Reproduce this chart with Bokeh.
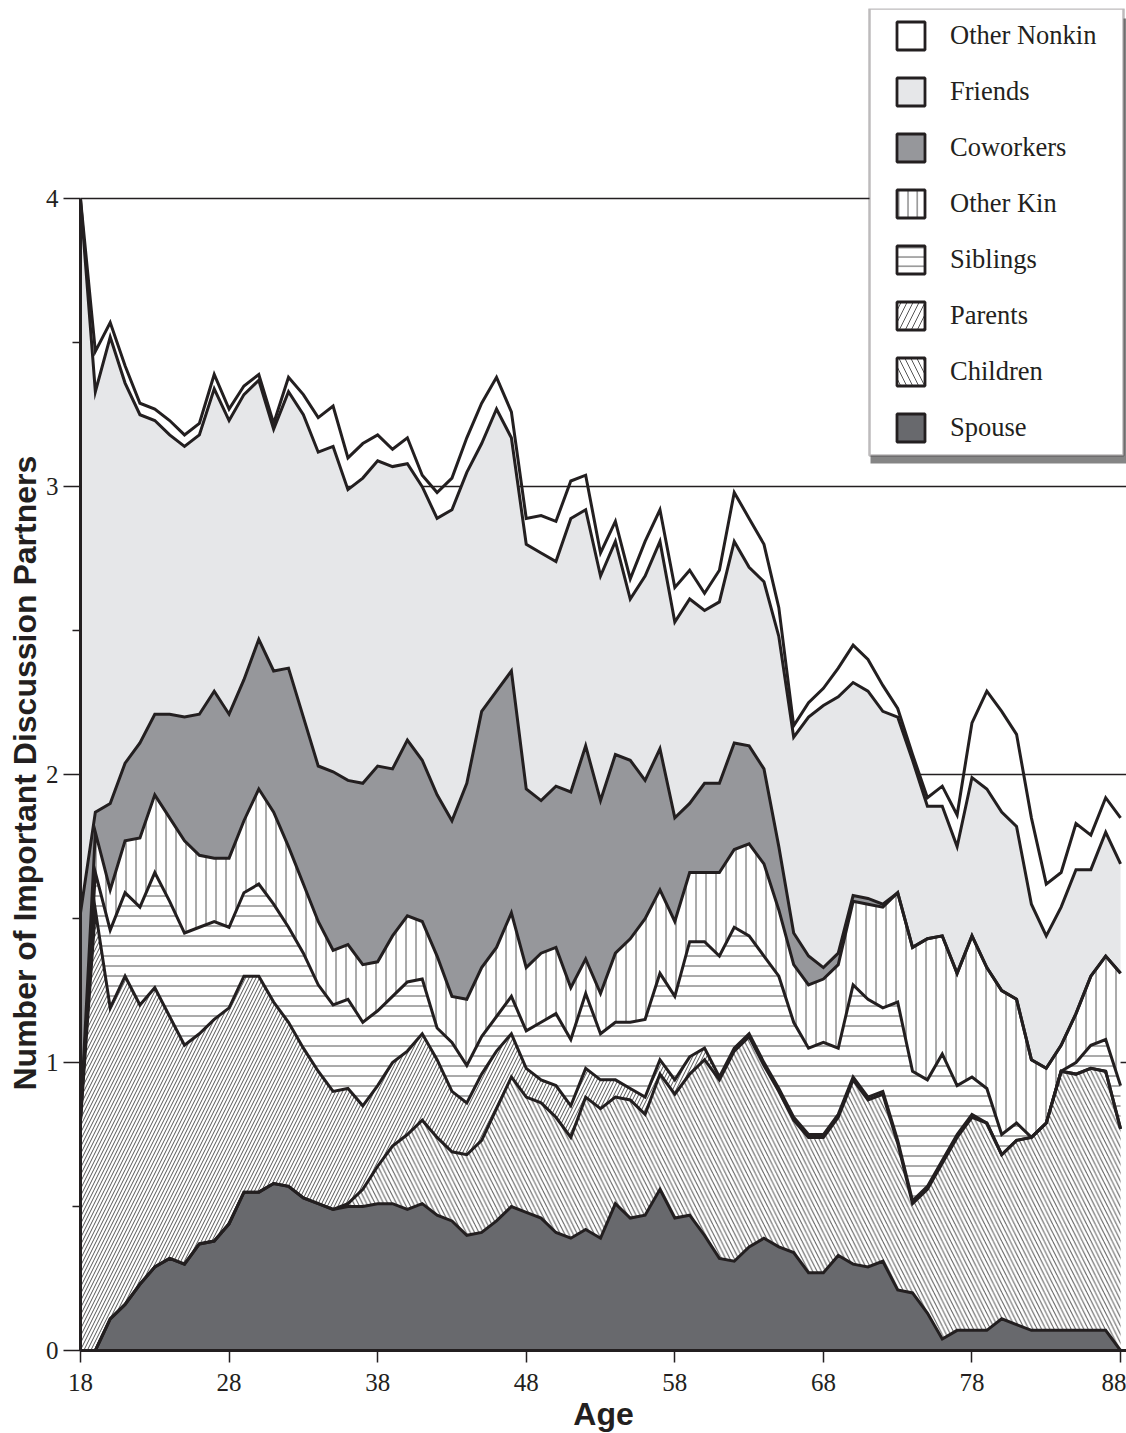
from bokeh.plotting import figure
from bokeh.models import (ColumnDataSource, FixedTicker, Legend, LegendItem,
                          BoxAnnotation, Title, Range1d)
from bokeh.embed import file_html
from bokeh.resources import INLINE

# ---------------- data ----------------
ages = list(range(18, 89))

spouse = [0, 0, 0.11, 0.16, 0.23, 0.29, 0.32, 0.30, 0.37, 0.38,
          0.44, 0.55, 0.55, 0.58, 0.57, 0.53, 0.51, 0.49, 0.50, 0.50,
          0.51, 0.51, 0.49, 0.51, 0.47, 0.45, 0.40, 0.41, 0.45, 0.50,
          0.48, 0.46, 0.41, 0.39, 0.42, 0.39, 0.51, 0.46, 0.47, 0.56,
          0.46, 0.47, 0.40, 0.32, 0.31, 0.36, 0.39, 0.36, 0.34, 0.27,
          0.27, 0.33, 0.30, 0.29, 0.31, 0.21, 0.20, 0.13, 0.04, 0.07,
          0.07, 0.07, 0.11, 0.09, 0.07, 0.07, 0.07, 0.07, 0.07, 0.07,
          0.0]
children = [0, 0, 0, 0, 0, 0, 0, 0, 0, 0,
            0, 0, 0, 0, 0, 0, 0, 0, 0.01, 0.06,
            0.13, 0.20, 0.26, 0.29, 0.27, 0.24, 0.28, 0.32, 0.39, 0.45,
            0.40, 0.40, 0.40, 0.35, 0.46, 0.45, 0.37, 0.41, 0.35, 0.40,
            0.43, 0.49, 0.61, 0.62, 0.73, 0.73, 0.60, 0.54, 0.46, 0.47,
            0.47, 0.48, 0.64, 0.58, 0.58, 0.51, 0.31, 0.43, 0.61, 0.67,
            0.74, 0.72, 0.57, 0.64, 0.67, 0.72, 0.90, 0.89, 0.91, 0.90,
            0.77]
parents = [0.80, 1.53, 1.08, 1.14, 0.97, 0.97, 0.84, 0.76, 0.73, 0.77,
           0.75, 0.75, 0.75, 0.63, 0.57, 0.52, 0.46, 0.41, 0.40, 0.29,
           0.28, 0.29, 0.29, 0.30, 0.27, 0.21, 0.18, 0.23, 0.20, 0.15,
           0.10, 0.08, 0.11, 0.11, 0.10, 0.10, 0.06, 0.04, 0.06, 0.05,
           0.05, 0.06, 0.04, 0.01, 0.01, 0.01, 0.01, 0.01, 0.01, 0.01,
           0.01, 0.01, 0.01, 0.01, 0.01, 0.01, 0.01, 0.01, 0.01, 0.01,
           0.01, 0, 0, 0, 0, 0, 0, 0, 0, 0,
           0]
siblings = [0, 0.13, 0.27, 0.29, 0.34, 0.40, 0.40, 0.39, 0.37, 0.34,
            0.28, 0.29, 0.32, 0.34, 0.33, 0.33, 0.30, 0.30, 0.31, 0.29,
            0.26, 0.23, 0.24, 0.19, 0.11, 0.17, 0.13, 0.13, 0.12, 0.13,
            0.13, 0.20, 0.25, 0.23, 0.26, 0.16, 0.20, 0.23, 0.27, 0.30,
            0.29, 0.40, 0.37, 0.42, 0.42, 0.34, 0.37, 0.39, 0.33, 0.30,
            0.32, 0.23, 0.32, 0.34, 0.29, 0.48, 0.45, 0.37, 0.37, 0.17,
            0.13, 0.12, 0.07, 0.06, 0, 0, 0, 0.04, 0.08, 0.11,
            0.15]
other_kin = [0, 0.14, 0.14, 0.18, 0.24, 0.27, 0.29, 0.32, 0.25, 0.22,
             0.24, 0.25, 0.33, 0.32, 0.28, 0.24, 0.22, 0.19, 0.19, 0.20,
             0.17, 0.21, 0.23, 0.20, 0.25, 0.16, 0.23, 0.24, 0.24, 0.29,
             0.22, 0.24, 0.23, 0.18, 0.12, 0.14, 0.24, 0.29, 0.35, 0.29,
             0.26, 0.24, 0.24, 0.29, 0.27, 0.32, 0.32, 0.23, 0.20, 0.22,
             0.22, 0.29, 0.29, 0.33, 0.35, 0.38, 0.43, 0.49, 0.41, 0.39,
             0.49, 0.42, 0.50, 0.43, 0.27, 0.19, 0.09, 0.17, 0.24, 0.29,
             0.39]
coworkers = [0.72, 0.07, 0.30, 0.27, 0.33, 0.28, 0.36, 0.43, 0.49, 0.58,
             0.50, 0.49, 0.52, 0.49, 0.62, 0.58, 0.54, 0.62, 0.57, 0.63,
             0.68, 0.58, 0.61, 0.56, 0.56, 0.61, 0.75, 0.89, 0.89, 0.84,
             0.62, 0.53, 0.56, 0.68, 0.74, 0.67, 0.69, 0.62, 0.48, 0.49,
             0.36, 0.24, 0.31, 0.31, 0.37, 0.34, 0.33, 0.22, 0.11, 0.10,
             0.04, 0.04, 0.02, 0.02, 0.01, 0, 0, 0, 0, 0,
             0, 0, 0, 0, 0, 0, 0, 0, 0, 0,
             0]
friends = [2.48, 1.46, 1.62, 1.32, 1.14, 1.02, 0.97, 0.94, 0.97, 1.05,
           1.02, 0.99, 0.90, 0.84, 0.96, 1.05, 1.09, 1.13, 1.01, 1.06,
           1.06, 1.05, 0.96, 0.95, 0.96, 1.08, 1.08, 0.93, 0.98, 0.81,
           0.85, 0.86, 0.78, 0.95, 0.82, 0.78, 0.74, 0.56, 0.71, 0.72,
           0.68, 0.71, 0.60, 0.63, 0.70, 0.62, 0.65, 0.73, 0.68, 0.83,
           0.91, 0.89, 0.74, 0.72, 0.67, 0.61, 0.65, 0.46, 0.45, 0.44,
           0.55, 0.62, 0.62, 0.60, 0.54, 0.46, 0.48, 0.50, 0.37, 0.43,
           0.38]
other_nonkin = [0, 0.14, 0.05, 0.06, 0.04, 0.04, 0.05, 0.04, 0.04, 0.05,
                0.04, 0.03, 0.02, 0.02, 0.05, 0.07, 0.12, 0.14, 0.11, 0.12,
                0.09, 0.06, 0.09, 0.04, 0.09, 0.11, 0.12, 0.14, 0.11, 0.09,
                0.09, 0.13, 0.14, 0.13, 0.12, 0.08, 0.07, 0.07, 0.12, 0.11,
                0.12, 0.10, 0.06, 0.11, 0.17, 0.17, 0.13, 0.10, 0.04, 0.05,
                0.06, 0.10, 0.13, 0.11, 0.09, 0.03, 0.02, 0.03, 0.07, 0.11,
                0.19, 0.34, 0.35, 0.32, 0.30, 0.18, 0.12, 0.16, 0.12, 0.12,
                0.16]

series = ["spouse", "children", "parents", "siblings",
          "other_kin", "coworkers", "friends", "other_nonkin"]
labels = ["Spouse", "Children", "Parents", "Siblings",
          "Other Kin", "Coworkers", "Friends", "Other Nonkin"]

x_ticks = [18, 28, 38, 48, 58, 68, 78, 88]
y_ticks = [0, 1, 2, 3, 4]
y_minor = [0.5, 1.5, 2.5, 3.5]

# ---------------- styles ----------------
INK = "#231f20"
HATCH = "#555555"
fills = ["#68696d", "white", "white", "white", "white", "#96979b", "#e6e7e9", "white"]
alphas = [1, 1, 1, 1, 1, 1, 1, 0]   # the top band is left unfilled (grid shows through)
hatches = [" ", "\\", "/", "-", "|", " ", " ", " "]
hscales = [8, 8.5, 7, 10, 10, 8, 8, 8]
legend_hscales = [8, 12, 12, 9.3, 9.3, 8, 8, 8]

src = ColumnDataSource(dict(age=ages, spouse=spouse, children=children, parents=parents,
                            siblings=siblings, other_kin=other_kin, coworkers=coworkers,
                            friends=friends, other_nonkin=other_nonkin))

X0, X1 = 18, 88.4
Y0, Y1 = 0, 4.661
FW, FH = 1046, 1342

p = figure(frame_width=FW, frame_height=FH, x_range=Range1d(X0, X1), y_range=Range1d(Y0, Y1),
           output_backend="svg", toolbar_location=None,
           min_border_left=80, min_border_right=0, min_border_top=8, min_border_bottom=0)
p.outline_line_color = None
p.background_fill_color = "white"
p.border_fill_color = "white"

p.varea_stack(series, x="age", source=src, fill_color=fills, fill_alpha=alphas,
              hatch_pattern=hatches, hatch_scale=hscales, hatch_color=HATCH, hatch_weight=1.0)
p.vline_stack(series, x="age", source=src, line_color=INK, line_width=3, line_join="miter")

# ---------------- axes ----------------
p.xgrid.visible = False
p.ygrid.grid_line_color = INK
p.ygrid.grid_line_width = 1.3

xa = p.xaxis[0]
xa.ticker = FixedTicker(ticks=x_ticks)
xa.axis_label = "Age"
xa.axis_label_text_font = "Liberation Sans"
xa.axis_label_text_font_style = "bold"
xa.axis_label_text_font_size = "32px"
xa.axis_label_text_color = INK
xa.axis_label_standoff = 2
xa.major_label_text_font = "Liberation Serif"
xa.major_label_text_font_size = "25px"
xa.major_label_text_color = INK
xa.major_label_standoff = 11
xa.major_tick_out = 12
xa.major_tick_in = 0
xa.major_tick_line_width = 1.5
xa.major_tick_line_color = INK
xa.minor_tick_line_color = None
xa.axis_line_width = 3
xa.axis_line_color = INK

ya = p.yaxis[0]
ya.ticker = FixedTicker(ticks=y_ticks, minor_ticks=y_minor)
ya.bounds = (0, 4)
ya.major_label_text_font = "Liberation Serif"
ya.major_label_text_font_size = "25px"
ya.major_label_text_color = INK
ya.major_label_standoff = 5
ya.major_tick_out = 17
ya.major_tick_in = 0
ya.minor_tick_out = 8
ya.minor_tick_in = 0
ya.major_tick_line_width = 1.5
ya.minor_tick_line_width = 1.5
ya.major_tick_line_color = INK
ya.minor_tick_line_color = INK
ya.axis_line_width = 3
ya.axis_line_color = INK

ytitle = Title(text="Number of Important Discussion Partners", align="left", offset=260,
               text_font="Liberation Sans", text_font_style="bold", text_font_size="32px",
               text_color=INK, standoff=0)
p.add_layout(ytitle, "left")

# ---------------- legend ----------------
sx = FW / (X1 - X0)
sy = FH / (Y1 - Y0)


def fx(px):  # pixels from the frame's left edge -> data x
    return X0 + px / sx


def fy(py):  # pixels from the frame's top edge -> data y
    return Y1 - py / sy


shadow = BoxAnnotation(left=fx(790), right=X1, top=fy(10), bottom=fy(455),
                       fill_color="#858585", fill_alpha=1, line_color=None)
box = BoxAnnotation(left=fx(789), right=fx(1043), top=Y1, bottom=fy(447),
                    fill_color="white", fill_alpha=1, line_color=INK, line_width=2.5)
p.add_layout(shadow)
p.add_layout(box)

items = []
for i in reversed(range(len(series))):
    # invisible proxy (placed outside the visible ranges) that only supplies the legend swatch
    r = p.quad(left=[X0 - 20], right=[X0 - 19], top=[Y0 - 5], bottom=[Y0 - 6],
               fill_color=fills[i], hatch_pattern=hatches[i],
               hatch_scale=legend_hscales[i],
               hatch_color=HATCH, hatch_weight=1.0,
               line_color=INK, line_width=2.8)
    items.append(LegendItem(label=labels[i], renderers=[r]))

leg = Legend(items=items, location=(813, 905), orientation="vertical", padding=0, margin=0,
             spacing=21, glyph_width=35, glyph_height=35, label_standoff=22, label_height=30,
             label_text_font="Liberation Serif", label_text_font_size="26.5px",
             label_text_color=INK, border_line_color=None, background_fill_alpha=0)
p.add_layout(leg)

open("out.html", "w").write(file_html(p, INLINE))
